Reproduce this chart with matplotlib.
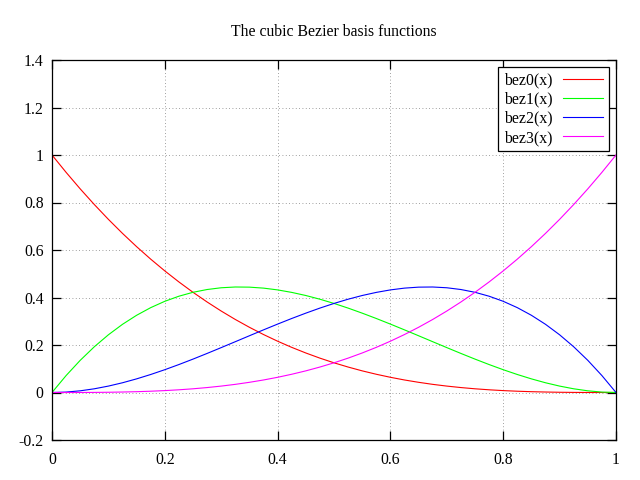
import matplotlib
matplotlib.use("Agg")
import matplotlib.pyplot as plt

x = [i / 40 for i in range(41)]

bez0 = [1.0, 0.9269, 0.8574, 0.7915, 0.7290, 0.6699, 0.6141, 0.5615, 0.5120, 0.4655,
        0.4219, 0.3811, 0.3430, 0.3075, 0.2746, 0.2441, 0.2160, 0.1901, 0.1664, 0.1447,
        0.1250, 0.1072, 0.0911, 0.0768, 0.0640, 0.0527, 0.0429, 0.0343, 0.0270, 0.0208,
        0.0156, 0.0114, 0.0080, 0.0054, 0.0034, 0.0020, 0.0010, 0.0004, 0.0001, 0.0000, 0.0]
bez1 = [0.0, 0.0713, 0.1354, 0.1925, 0.2430, 0.2871, 0.3251, 0.3573, 0.3840, 0.4054,
        0.4219, 0.4336, 0.4410, 0.4442, 0.4436, 0.4395, 0.4320, 0.4215, 0.4084, 0.3928,
        0.3750, 0.3554, 0.3341, 0.3116, 0.2880, 0.2637, 0.2389, 0.2139, 0.1890, 0.1645,
        0.1406, 0.1177, 0.0960, 0.0758, 0.0574, 0.0410, 0.0270, 0.0156, 0.0071, 0.0018, 0.0]
bez2 = [0.0, 0.0018, 0.0071, 0.0156, 0.0270, 0.0410, 0.0574, 0.0758, 0.0960, 0.1177,
        0.1406, 0.1645, 0.1890, 0.2139, 0.2389, 0.2637, 0.2880, 0.3116, 0.3341, 0.3554,
        0.3750, 0.3928, 0.4084, 0.4215, 0.4320, 0.4395, 0.4436, 0.4442, 0.4410, 0.4336,
        0.4219, 0.4054, 0.3840, 0.3573, 0.3251, 0.2871, 0.2430, 0.1925, 0.1354, 0.0713, 0.0]
bez3 = [0.0, 0.0000, 0.0001, 0.0004, 0.0010, 0.0020, 0.0034, 0.0054, 0.0080, 0.0114,
        0.0156, 0.0208, 0.0270, 0.0343, 0.0429, 0.0527, 0.0640, 0.0768, 0.0911, 0.1072,
        0.1250, 0.1447, 0.1664, 0.1901, 0.2160, 0.2441, 0.2746, 0.3075, 0.3430, 0.3811,
        0.4219, 0.4655, 0.5120, 0.5615, 0.6141, 0.6699, 0.7290, 0.7915, 0.8574, 0.9269, 1.0]

labels = ["bez0(x)", "bez1(x)", "bez2(x)", "bez3(x)"]
colors = ["#ff0000", "#00ff00", "#0000ff", "#ff00ff"]
xticks = [0, 0.2, 0.4, 0.6, 0.8, 1]
xticklabels = ["0", "0.2", "0.4", "0.6", "0.8", "1"]
yticks = [-0.2, 0, 0.2, 0.4, 0.6, 0.8, 1, 1.2, 1.4]
yticklabels = ["-0.2", "0", "0.2", "0.4", "0.6", "0.8", "1", "1.2", "1.4"]
title = "The cubic Bezier basis functions"

plt.rcParams['font.family'] = ['Liberation Serif', 'DejaVu Serif']
fs = 11.3

fig = plt.figure(figsize=(6.4, 4.8), dpi=100)
ax = fig.add_axes([52 / 640, 40 / 480, 564 / 640, 380 / 480])

for ys, lab, c in zip([bez0, bez1, bez2, bez3], labels, colors):
    ax.plot(x, ys, color=c, lw=0.8, label=lab)

ax.set_xlim(0, 1)
ax.set_ylim(-0.2, 1.4)
ax.set_xticks(xticks)
ax.set_xticklabels(xticklabels, fontsize=fs)
ax.set_yticks(yticks)
ax.set_yticklabels(yticklabels, fontsize=fs)
ax.tick_params(direction='in', length=6.5, width=0.9, top=True, right=True,
               pad=6, colors='black')
ax.tick_params(axis='x', pad=9)
ax.grid(True, color='#808080', linestyle=(0, (1, 3)), linewidth=0.6)
for s in ax.spines.values():
    s.set_linewidth(0.9)
ax.set_title(title, fontsize=fs, pad=17)

leg = ax.legend(loc='upper right', fontsize=fs, markerfirst=False, fancybox=False,
                framealpha=1, edgecolor='black', handlelength=2.6, handletextpad=0.65,
                labelspacing=0.2, borderpad=0.35, borderaxespad=0.45)
leg.get_frame().set_linewidth(0.9)

fig.savefig("out.png", dpi=100)
